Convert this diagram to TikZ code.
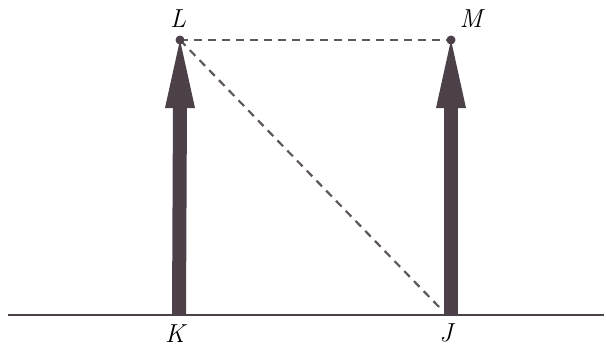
\documentclass[tikz,border=0pt]{standalone}
\usepackage{fontspec}
\usetikzlibrary{calc}
\definecolor{pole}{HTML}{4C4049}
\definecolor{dashgray}{HTML}{5E585C}
\begin{document}
\begin{tikzpicture}[x=1pt,y=-1pt,
  shaftline/.style={pole, line width=14pt},
  headfill/.style={fill=pole},
  dashline/.style={dashgray, line width=2.2pt, dash pattern=on 8pt off 6pt},
  groundline/.style={pole, line width=2.8pt},
  dotmark/.style={circle, fill=pole, inner sep=0pt, minimum size=9pt},
  lbl/.style={font=\fontsize{26}{26}\selectfont\itshape}]
\useasboundingbox (0,0) rectangle (606,349);
\coordinate (G1) at (8,315);
\coordinate (G2) at (604,315);
\coordinate (K) at (179,315);
\coordinate (J) at (451,315);
\coordinate (L) at (180,40);
\coordinate (M) at (451,40);
\coordinate (Jd) at (442,310);
\draw[groundline] (G1) -- (G2);
\draw[shaftline] (K) -- ($(L)+(0,60)$);
\draw[shaftline] (J) -- ($(M)+(0,60)$);
\fill[headfill] (L) -- ++(-15,68) -- ++(30,0) -- cycle;
\fill[headfill] (M) -- ++(-15,68) -- ++(30,0) -- cycle;
\draw[dashline] (L) -- (M);
\draw[dashline] (L) -- (Jd);
\node[dotmark] (Ld) at (L) {};
\node[dotmark] (Md) at (M) {};
\node[lbl] (Lt) at (178,19) {L};
\node[lbl] (Mt) at (471,19) {M};
\node[lbl] (Kt) at (175,334) {K};
\node[lbl] (Jt) at (446,333) {J};
\end{tikzpicture}
\end{document}
